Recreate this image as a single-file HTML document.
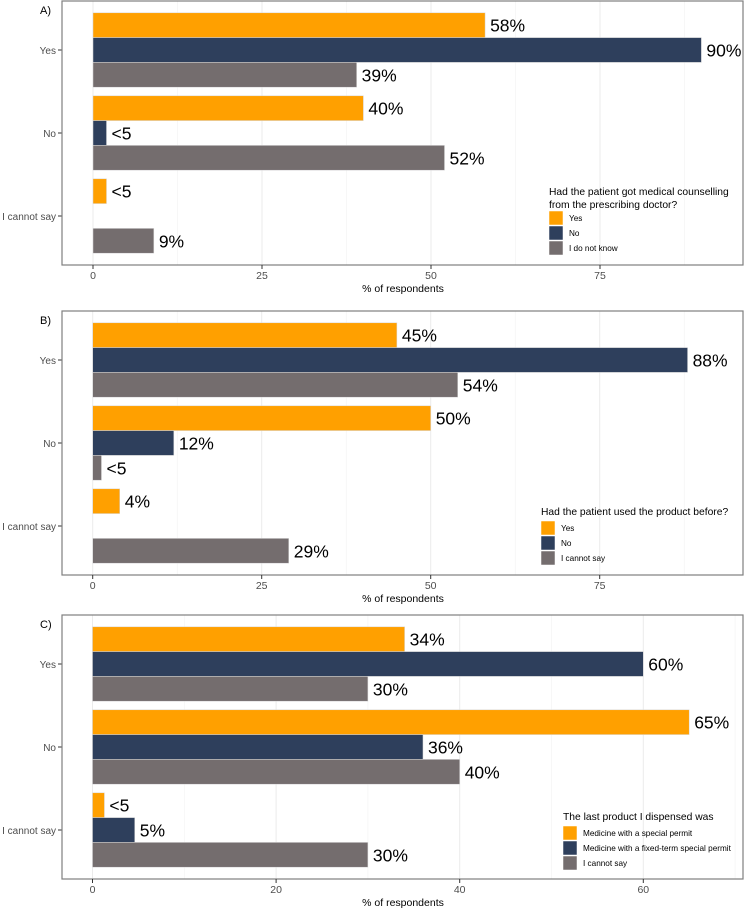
<!DOCTYPE html>
<html><head><meta charset="utf-8"><style>
html,body{margin:0;padding:0;background:#fff;}
svg{display:block;font-family:"Liberation Sans",Arial,sans-serif;}
</style></head><body>
<svg id="chart" width="750" height="909" xmlns="http://www.w3.org/2000/svg"></svg>
<script>
const categories = ["Yes","No","I cannot say"];
const colors = ["#FFA000","#2E3F5C","#746D6E"];
// Panel A
const aYes=[58,90,39], aNo=[40,2,52], aIcs=[2,0,9];
const aLabels=[["58%","90%","39%"],["40%","<5","52%"],["<5","","9%"]];
const aTicks=[0,25,50,75];
const aLegend=["Yes","No","I do not know"];
// Panel B
const bYes=[45,88,54], bNo=[50,12,1.3], bIcs=[4,0,29];
const bLabels=[["45%","88%","54%"],["50%","12%","<5"],["4%","","29%"]];
const bTicks=[0,25,50,75];
const bLegend=["Yes","No","I cannot say"];
// Panel C
const cYes=[34,60,30], cNo=[65,36,40], cIcs=[1.3,4.6,30];
const cLabels=[["34%","60%","30%"],["65%","36%","40%"],["<5","5%","30%"]];
const cTicks=[0,20,40,60];
const cLegend=["Medicine with a special permit","Medicine with a fixed-term special permit","I cannot say"];

const NS="http://www.w3.org/2000/svg";
const svg=document.getElementById('chart');
function mk(tag,attrs,parent,text){const e=document.createElementNS(NS,tag);for(const k in attrs)e.setAttribute(k,attrs[k]);if(text!==undefined)e.textContent=text;(parent||svg).appendChild(e);return e;}

function panel(id,letter,top,x0,ppu,data,labels,ticks,minorStep,legTitle,legItems,leg){
  const g=mk('g',{});
  
  
  const L=62,R=743,B=top+264;
  const xs=v=>x0+v*ppu;
  for(let v=minorStep/2;xs(v)<R;v+=minorStep){const l=mk('line',{x1:xs(v),x2:xs(v),y1:top,y2:B,stroke:'#f2f2f2','stroke-width':0.6},g);}
  for(let v=0;xs(v)<R;v+=minorStep){const l=mk('line',{x1:xs(v),x2:xs(v),y1:top,y2:B,stroke:'#ebebeb','stroke-width':1},g);}
  const bh=24.8, gc=[49,132,215];
  data.forEach((vals,ci)=>{
    const yc=top+gc[ci];
    vals.forEach((v,si)=>{
      const y=yc-1.5*bh+si*bh;
      const r=mk('rect',{x:xs(0),y:y,width:Math.max(0,xs(v)-xs(0)),height:bh,fill:colors[si],stroke:'#d9d9d9','stroke-width':0.5},g);
      
      
      const t=labels[ci][si];
      if(t){const tx=mk('text',{x:xs(v)+5,y:y+bh/2+6.5,'font-size':17.5,fill:'#000'},g,t);
        
        }
    });
    const yl=mk('text',{x:56,y:yc+4,'font-size':10,fill:'#4d4d4d','text-anchor':'end'},g,categories[ci]);
    
    
    mk('line',{x1:58,x2:62,y1:yc,y2:yc,stroke:'#333','stroke-width':1},g);
  });
  const bd=mk('rect',{x:L,y:top,width:R-L,height:264,fill:'none',stroke:'#7f7f7f','stroke-width':1.2},g);
  
  
  const lt=mk('text',{x:40,y:top+13,'font-size':11,fill:'#000'},g,letter);
  
  
  ticks.forEach(v=>{
    mk('line',{x1:xs(v),x2:xs(v),y1:B,y2:B+4,stroke:'#333','stroke-width':1},g);
    const t=mk('text',{x:xs(v),y:B+14,'font-size':10.5,fill:'#4d4d4d','text-anchor':'middle'},g,String(v));
    
    
  });
  const xt=mk('text',{x:403,y:B+27,'font-size':10.5,fill:'#000','text-anchor':'middle'},g,'% of respondents');
  
  
  const lg=mk('g',{},g);
  
  
  legTitle.forEach((s,i)=>mk('text',{x:leg.x,y:leg.ty+i*13,'font-size':10.3,fill:'#000'},lg,s));
  legItems.forEach((s,i)=>{
    const ky=leg.ky+i*15;
    mk('rect',{x:leg.x,y:ky,width:14,height:14,fill:colors[i],stroke:'#fff','stroke-width':0.5},lg);
    const e=mk('text',{x:leg.x+20,y:ky+10,'font-size':8.2,fill:'#000'},lg,s);
    
    
  });
}
panel('a','A)',1,93,6.76,[aYes,aNo,aIcs],aLabels,aTicks,25,["Had the patient got medical counselling","from the prescribing doctor?"],aLegend,{x:549,ty:195,ky:211});
panel('b','B)',311,92.7,6.76,[bYes,bNo,bIcs],bLabels,bTicks,25,["Had the patient used the product before?"],bLegend,{x:541,ty:515,ky:521});
panel('c','C)',615,92.5,9.18,[cYes,cNo,cIcs],cLabels,cTicks,20,["The last product I dispensed was"],cLegend,{x:563,ty:820,ky:826});
</script>
</body></html>
